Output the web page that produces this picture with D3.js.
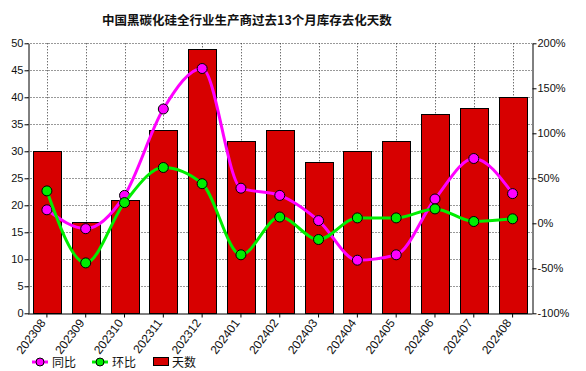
<!DOCTYPE html>
<html><head><meta charset="utf-8">
<script src="https://cdn.jsdelivr.net/npm/d3@7"></script>
<style>body{margin:0;background:#fff}svg{display:block}</style>
</head><body><svg id="c" width="586" height="371"></svg>
<script>
const categories = ["202308","202309","202310","202311","202312","202401","202402","202403","202404","202405","202406","202407","202408"];
const days = [30,17,21,34,49,32,34,28,30,32,37,38,40];
const yoy = [15,-6,31,127,172,39,31,3,-41,-35,27,72,33];
const mom = [36,-44,23,62,44,-35,7,-18,6,6,16,2,5];
const leftTicks = [0,5,10,15,20,25,30,35,40,45,50];
const rightTicks = [-100,-50,0,50,100,150,200];
const title = "中国黑碳化硅全行业生产商过去13个月库存去化天数";

const svg = d3.select("#c");
const m = {l:27.5, r:532, t:43.3, b:313.3};
const x = d3.scaleBand().domain(categories).range([m.l, m.r]).paddingInner(0.28).paddingOuter(0.14);
const yL = d3.scaleLinear().domain([0,50]).range([m.b, m.t]);
const yR = d3.scaleLinear().domain([-100,200]).range([m.b, m.t]);
const cx = d => x(d) + x.bandwidth()/2;
const font = "'Liberation Sans', Arial, sans-serif";

svg.append("text").attr("x", 247).attr("y", 25).attr("text-anchor","middle")
  .attr("font-family","'Noto Sans CJK SC', sans-serif").attr("font-weight","bold").attr("font-size",12.5)
  .attr("fill","#111").text(title);

// grid
const g = svg.append("g");
g.selectAll(".hg").data(leftTicks.slice(1)).join("line")
  .attr("x1", m.l).attr("x2", m.r).attr("y1", d=>Math.round(yL(d))+0.5).attr("y2", d=>Math.round(yL(d))+0.5)
  .attr("stroke","#333").attr("stroke-dasharray","1,2");
g.selectAll(".vg").data(categories).join("line")
  .attr("x1", d=>Math.round(cx(d))+0.5).attr("x2", d=>Math.round(cx(d))+0.5).attr("y1", m.t).attr("y2", m.b)
  .attr("stroke","#333").attr("stroke-dasharray","1,2");

// bars
svg.append("g").selectAll("rect").data(days).join("rect")
  .attr("x", (d,i)=>Math.round(x(categories[i]))+0.5).attr("width", Math.round(x.bandwidth()))
  .attr("y", d=>Math.round(yL(d))+0.5).attr("height", d=>Math.round(yL(0))-Math.round(yL(d)))
  .attr("fill","#d70000").attr("stroke","#000").attr("stroke-width",1);

// axes
const axL = svg.append("g").attr("transform",`translate(${Math.round(m.l)+0.5},0)`)
  .call(d3.axisLeft(yL).tickValues(leftTicks).tickSize(4).tickSizeOuter(0));
const axR = svg.append("g").attr("transform",`translate(${Math.round(m.r)+0.5},0)`)
  .call(d3.axisRight(yR).tickValues(rightTicks).tickFormat(d=>d+"%").tickSize(4).tickSizeOuter(0));
const axB = svg.append("g").attr("transform",`translate(0,${Math.round(m.b)+0.5})`)
  .call(d3.axisBottom(x).tickSize(4).tickSizeOuter(0));
[axL,axR,axB].forEach(a=>{
  a.selectAll("path,line").attr("stroke","#000");
  a.selectAll("text").attr("font-family",font).attr("font-size",11).attr("fill","#111");
});
axL.selectAll("text").attr("x",-5);
axR.selectAll("text").attr("x",5);
axB.selectAll("text").attr("font-size",12).attr("text-anchor","end").attr("dy","0.35em")
  .attr("transform","translate(-4,7) rotate(-53)").attr("x",0).attr("y",0);

// lines
const line = d3.line().curve(d3.curveMonotoneX);
function series(vals, color){
  const pts = vals.map((v,i)=>[cx(categories[i]), yR(v)]);
  svg.append("path").attr("d", line(pts)).attr("fill","none").attr("stroke",color).attr("stroke-width",3);
  svg.append("g").selectAll("circle").data(pts).join("circle")
    .attr("cx",d=>d[0]).attr("cy",d=>d[1]).attr("r",5).attr("fill",color).attr("stroke","#000").attr("stroke-width",1);
}
series(yoy, "#ff00ff");
series(mom, "#00ee00");

// legend
const lg = svg.append("g").attr("font-family","'Noto Sans CJK SC', sans-serif").attr("font-size",12).attr("fill","#111");
[["同比","#ff00ff",32],["环比","#00ee00",92]].forEach(([t,c,x0])=>{
  lg.append("line").attr("x1",x0).attr("x2",x0+16).attr("y1",362).attr("y2",362).attr("stroke",c).attr("stroke-width",3);
  lg.append("circle").attr("cx",x0+8).attr("cy",362).attr("r",4).attr("fill",c).attr("stroke","#000");
  lg.append("text").attr("x",x0+20).attr("y",366.5).text(t);
});
lg.append("rect").attr("x",153.5).attr("y",357.5).attr("width",15).attr("height",8).attr("fill","#d70000").attr("stroke","#000");
lg.append("text").attr("x",172).attr("y",366.5).text("天数");
</script></body></html>
